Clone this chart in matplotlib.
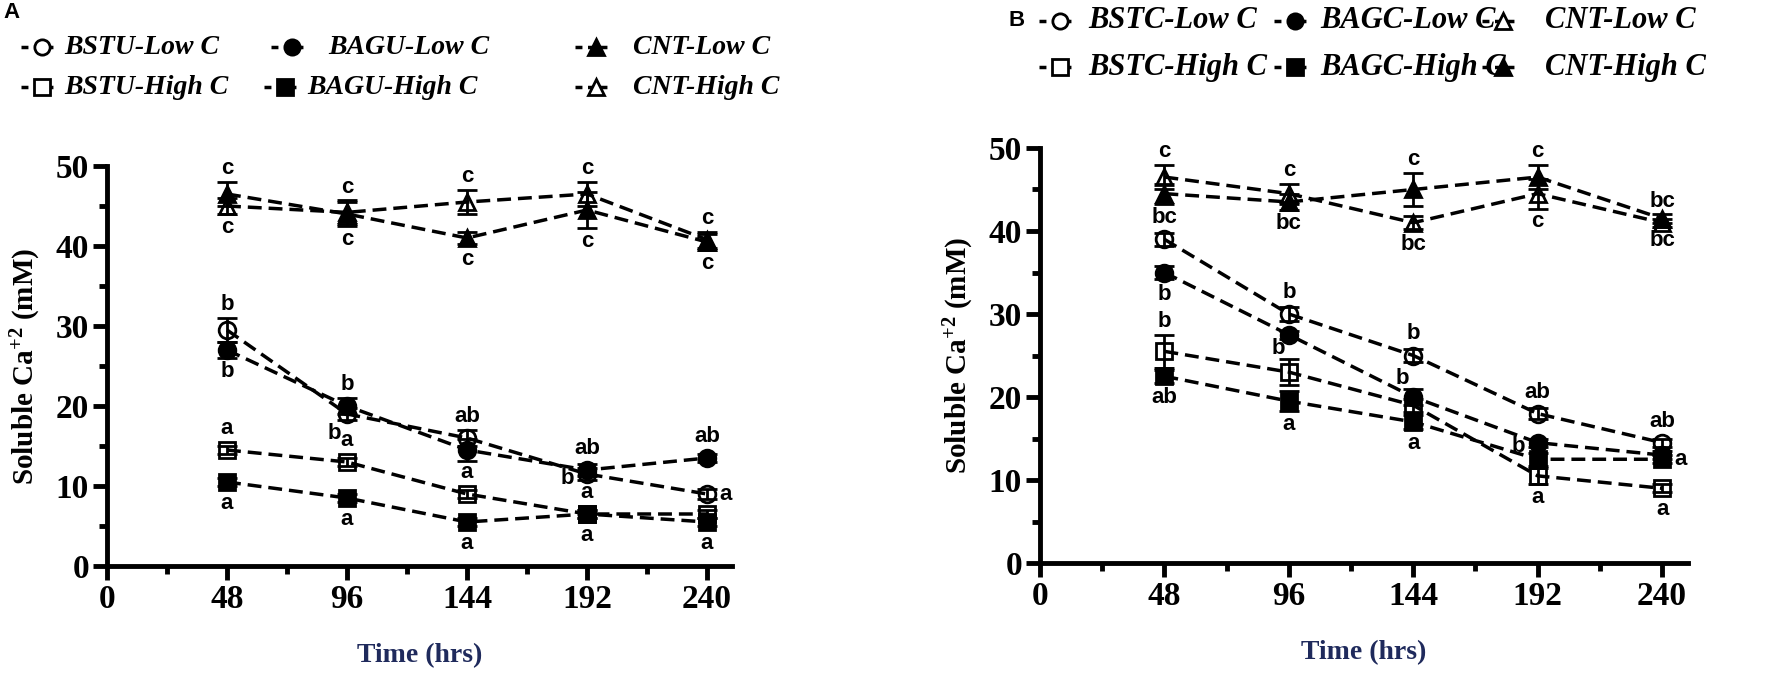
import matplotlib.pyplot as plt
from matplotlib.lines import Line2D

plt.rcParams['mathtext.fontset'] = 'custom'
plt.rcParams['mathtext.rm'] = 'Liberation Serif:bold'
plt.rcParams['mathtext.default'] = 'rm'

W, H = 1772, 673
times = [48, 96, 144, 192, 240]

# ---- panel A : soluble Ca+2 (mM), mean and error ----
bstu_low_A = [29.5, 19.0, 16.0, 11.5, 9.0]
bstu_low_A_err = [1.5, 0.8, 1.0, 0.7, 0.6]
bstu_low_A_let = ['b', 'b', 'ab', 'b', 'a']
bstu_low_A_pos = ['u', 'dl', 'u', 'l', 'r']

bstu_high_A = [14.5, 13.0, 9.0, 6.5, 6.5]
bstu_high_A_err = [0.5, 0.5, 0.5, 0.5, 0.5]
bstu_high_A_let = ['a', 'a', 'a', 'a', '']
bstu_high_A_pos = ['u', 'u', 'u', 'u', '']

bagu_low_A = [27.0, 20.0, 14.5, 12.0, 13.5]
bagu_low_A_err = [1.0, 1.0, 1.4, 0.7, 0.5]
bagu_low_A_let = ['b', 'b', '', 'ab', 'ab']
bagu_low_A_pos = ['d', 'u', '', 'u', 'u']

bagu_high_A = [10.5, 8.5, 5.5, 6.5, 5.5]
bagu_high_A_err = [0.5, 0.5, 0.5, 0.5, 0.5]
bagu_high_A_let = ['a', 'a', 'a', 'a', 'a']
bagu_high_A_pos = ['d', 'd', 'd', 'd', 'd']

cnt_low_A = [46.5, 44.0, 41.0, 44.5, 40.5]
cnt_low_A_err = [1.5, 1.5, 0.8, 2.3, 1.0]
cnt_low_A_let = ['c', 'c', 'c', 'c', 'c']
cnt_low_A_pos = ['u', 'd', 'd', 'd', 'd']

cnt_high_A = [45.0, 44.2, 45.5, 46.5, 40.8]
cnt_high_A_err = [1.0, 1.5, 1.5, 1.5, 1.0]
cnt_high_A_let = ['c', 'c', 'c', 'c', 'c']
cnt_high_A_pos = ['d', 'u', 'u', 'u', 'u']

# ---- panel B ----
bstc_low_B = [39.0, 30.0, 25.0, 18.0, 14.5]
bstc_low_B_err = [0.8, 0.8, 0.8, 0.7, 0.5]
bstc_low_B_let = ['bc', 'b', 'b', 'ab', 'ab']
bstc_low_B_pos = ['u', 'u', 'u', 'u', 'u']

bstc_high_B = [25.5, 23.0, 19.0, 10.5, 9.0]
bstc_high_B_err = [2.0, 1.6, 0.8, 1.0, 0.5]
bstc_high_B_let = ['b', 'b', '', 'a', 'a']
bstc_high_B_pos = ['u', 'ul', '', 'd', 'd']

bagc_low_B = [35.0, 27.5, 20.0, 14.5, 13.0]
bagc_low_B_err = [0.8, 0.5, 1.0, 0.5, 0.5]
bagc_low_B_let = ['b', '', 'b', 'b', '']
bagc_low_B_pos = ['d', '', 'ul', 'l', '']

bagc_high_B = [22.5, 19.5, 17.0, 12.5, 12.5]
bagc_high_B_err = [0.8, 1.2, 0.8, 0.8, 0.5]
bagc_high_B_let = ['ab', 'a', 'a', '', 'a']
bagc_high_B_pos = ['d', 'd', 'd', '', 'r']

cnt_low_B = [46.5, 44.5, 41.0, 44.5, 41.0]
cnt_low_B_err = [1.5, 1.2, 0.8, 1.8, 0.5]
cnt_low_B_let = ['c', 'c', 'bc', 'c', 'bc']
cnt_low_B_pos = ['u', 'u', 'd', 'd', 'u']

cnt_high_B = [44.5, 43.5, 45.0, 46.5, 41.5]
cnt_high_B_err = [1.2, 1.0, 2.0, 1.5, 0.5]
cnt_high_B_let = ['', 'bc', 'c', 'c', 'bc']
cnt_high_B_pos = ['', 'd', 'u', 'u', 'd']

labels_A = ['BSTU-Low C', 'BAGU-Low C', 'CNT-Low C',
            'BSTU-High C', 'BAGU-High C', 'CNT-High C']
labels_B = ['BSTC-Low C', 'BAGC-Low C', 'CNT-Low C',
            'BSTC-High C', 'BAGC-High C', 'CNT-High C']

DASH = (0, (4, 2))
SERIF = 'Liberation Serif'
SANS = 'Liberation Sans'


def letter(ax, t, v, e, txt, spot):
    top = v + max(e, 1.0)
    bot = v - max(e, 1.0)
    kw = dict(textcoords='offset points', fontsize=16, fontweight='bold',
              family=SANS)
    if spot == 'u':
        ax.annotate(txt, (t, top), xytext=(0, 2), ha='center', va='bottom', **kw)
    elif spot == 'd':
        ax.annotate(txt, (t, bot), xytext=(0, -2), ha='center', va='top', **kw)
    elif spot == 'l':
        ax.annotate(txt, (t, v), xytext=(-9, -3), ha='right', va='center', **kw)
    elif spot == 'r':
        ax.annotate(txt, (t, v), xytext=(9, 0), ha='left', va='center', **kw)
    elif spot == 'dl':
        ax.annotate(txt, (t, bot), xytext=(-4, -1), ha='right', va='top', **kw)
    elif spot == 'ul':
        ax.annotate(txt, (t, top), xytext=(-3, 0), ha='right', va='bottom', **kw)


def draw_panel(ax, series, width_px):
    for vals, errs, lets, spots, marker, filled in series:
        ax.errorbar(times, vals, yerr=errs, color='black', ls=DASH, lw=2.5,
                    marker=marker, ms=12, mfc='black' if filled else 'none',
                    mec='black', mew=2, elinewidth=2, capsize=7, capthick=2,
                    zorder=3, clip_on=False)
        for t, v, e, txt, spot in zip(times, vals, errs, lets, spots):
            if txt:
                letter(ax, t, v, e, txt, spot)

    ax.set_xlim(0, 250)
    ax.set_ylim(0, 50)
    for s in ['top', 'right']:
        ax.spines[s].set_visible(False)
    for s in ['left', 'bottom']:
        ax.spines[s].set_linewidth(3.5)
    ax.set_xticks([0, 48, 96, 144, 192, 240])
    ax.set_xticks([24, 72, 120, 168, 216], minor=True)
    ax.set_yticks(range(0, 51, 10))
    ax.set_yticks(range(5, 50, 10), minor=True)
    ax.tick_params(which='major', length=10, width=3.5, pad=3)
    ax.tick_params(which='minor', length=6, width=3.5)
    for lab in ax.get_xticklabels() + ax.get_yticklabels():
        lab.set_fontfamily(SERIF)
        lab.set_fontweight('bold')
        lab.set_fontsize(24)
    ax.set_ylabel('Soluble Ca$^{+2}$ (mM)', family=SERIF, fontweight='bold',
                  fontsize=21)
    ax.yaxis.set_label_coords(-64 / width_px, 0.5)
    ax.set_xlabel('Time (hrs)', family=SERIF, fontweight='bold', fontsize=20,
                  color='#1f2a5c', labelpad=20)


def legend_entry(fig, xm, xt, y, marker, filled, text, size):
    # marker sample centred at xm (pixels), text starting at xt
    fx = lambda p: p / W
    fy = 1 - y / H
    fig.add_artist(Line2D([fx(xm - 21), fx(xm + 15)], [fy, fy], color='black',
                          ls=(0, (2, 1.6)), lw=2.5, transform=fig.transFigure))
    fig.add_artist(Line2D([fx(xm)], [fy], marker=marker, ms=11, mew=2,
                          mec='black', mfc='black' if filled else 'white',
                          ls='none', transform=fig.transFigure))
    fig.text(fx(xt), fy, text, family=SERIF, style='italic', fontweight='bold',
             fontsize=size, ha='left', va='center')


fig = plt.figure(figsize=(W / 100, H / 100), dpi=100)
axA = fig.add_axes([107 / W, 1 - 566 / H, 625 / W, 400 / H])
axB = fig.add_axes([1040 / W, 1 - 563 / H, 648 / W, 415 / H])

draw_panel(axA, [
    (bstu_low_A, bstu_low_A_err, bstu_low_A_let, bstu_low_A_pos, 'o', False),
    (bstu_high_A, bstu_high_A_err, bstu_high_A_let, bstu_high_A_pos, 's', False),
    (bagu_low_A, bagu_low_A_err, bagu_low_A_let, bagu_low_A_pos, 'o', True),
    (bagu_high_A, bagu_high_A_err, bagu_high_A_let, bagu_high_A_pos, 's', True),
    (cnt_low_A, cnt_low_A_err, cnt_low_A_let, cnt_low_A_pos, '^', True),
    (cnt_high_A, cnt_high_A_err, cnt_high_A_let, cnt_high_A_pos, '^', False),
], 625)
draw_panel(axB, [
    (bstc_low_B, bstc_low_B_err, bstc_low_B_let, bstc_low_B_pos, 'o', False),
    (bstc_high_B, bstc_high_B_err, bstc_high_B_let, bstc_high_B_pos, 's', False),
    (bagc_low_B, bagc_low_B_err, bagc_low_B_let, bagc_low_B_pos, 'o', True),
    (bagc_high_B, bagc_high_B_err, bagc_high_B_let, bagc_high_B_pos, 's', True),
    (cnt_low_B, cnt_low_B_err, cnt_low_B_let, cnt_low_B_pos, '^', False),
    (cnt_high_B, cnt_high_B_err, cnt_high_B_let, cnt_high_B_pos, '^', True),
], 648)

# legends
mk_A = [('o', False), ('o', True), ('^', True), ('s', False), ('s', True), ('^', False)]
pos_A = [(42, 64, 47), (292, 328, 47), (596, 633, 47),
         (42, 64, 87), (285, 307, 87), (596, 633, 87)]
for (m, f), (xm, xt, y), lab in zip(mk_A, pos_A, labels_A):
    legend_entry(fig, xm, xt, y, m, f, lab, 20)

mk_B = [('o', False), ('o', True), ('^', False), ('s', False), ('s', True), ('^', True)]
pos_B = [(1060, 1088, 21), (1295, 1320, 21), (1503, 1545, 21),
         (1060, 1088, 67), (1295, 1320, 67), (1503, 1545, 67)]
for (m, f), (xm, xt, y), lab in zip(mk_B, pos_B, labels_B):
    legend_entry(fig, xm, xt, y, m, f, lab, 22)

fig.text(3 / W, 1 - 12 / H, 'A', family=SANS, fontweight='bold', fontsize=16,
         ha='left', va='center')
fig.text(1008 / W, 1 - 20 / H, 'B', family=SANS, fontweight='bold', fontsize=16,
         ha='left', va='center')

fig.savefig('out.png', dpi=100)
